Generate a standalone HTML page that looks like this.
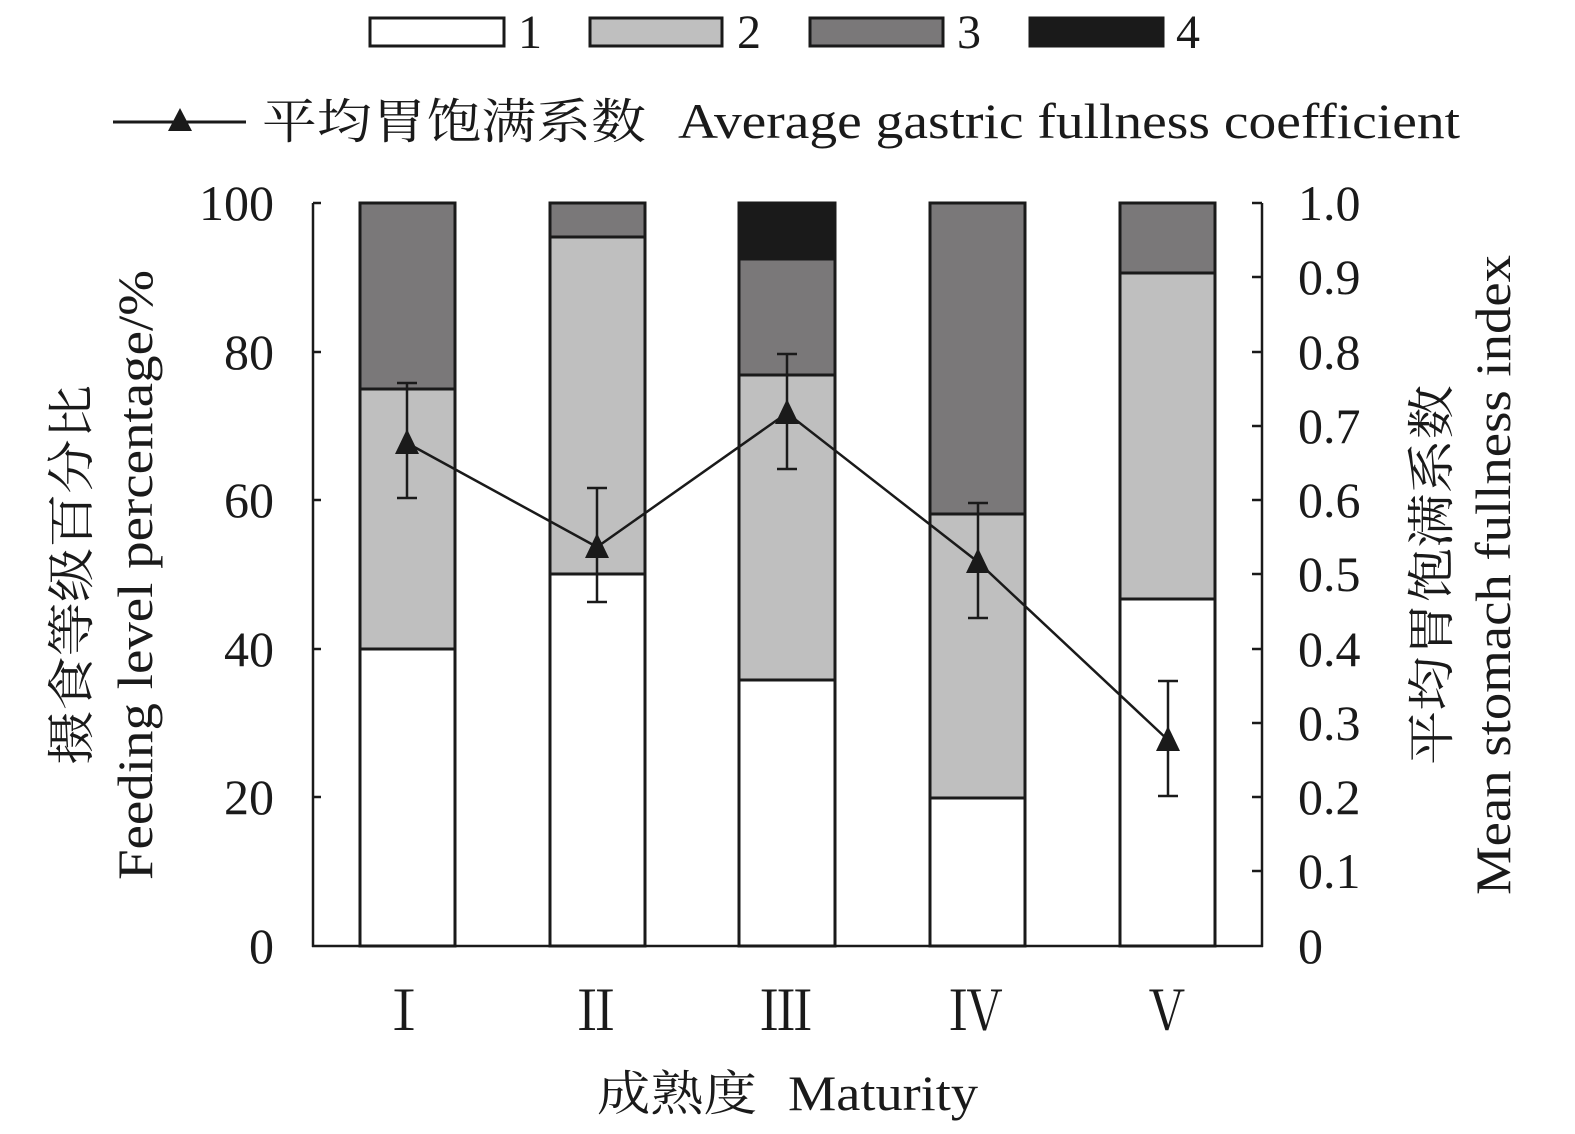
<!DOCTYPE html>
<html><head><meta charset="utf-8"><style>
html,body{margin:0;padding:0;background:#fff;}
svg{display:block;}
text{font-family:"Liberation Serif","Noto Serif CJK SC",serif;fill:#1a1a1a;}
</style></head><body>
<svg width="1575" height="1134" viewBox="0 0 1575 1134" xmlns="http://www.w3.org/2000/svg">
<!-- legend -->
<g stroke="#1a1a1a" stroke-width="3">
<rect x="370" y="18" width="134" height="28" fill="#fff"/>
<rect x="590" y="18" width="132" height="28" fill="#bfbfbf"/>
<rect x="810" y="18" width="133" height="28" fill="#7a7879"/>
<rect x="1030" y="18" width="133" height="28" fill="#1a1a1a"/>
</g>
<g font-size="48">
<text x="518" y="48">1</text><text x="737" y="48">2</text><text x="957" y="48">3</text><text x="1176" y="48">4</text>
</g>
<line x1="113" y1="122" x2="246" y2="122" stroke="#1a1a1a" stroke-width="3"/>
<polygon points="180,108 168,131 192,131" fill="#1a1a1a"/>
<text x="262" y="138" font-size="48" textLength="384" lengthAdjust="spacingAndGlyphs">平均胃饱满系数</text>
<text x="678" y="138" font-size="50" textLength="782" lengthAdjust="spacingAndGlyphs">Average gastric fullness coefficient</text>

<!-- bars -->
<g stroke="#1a1a1a" stroke-width="3">
<rect x="360" y="649" width="95" height="297" fill="#fff"/>
<rect x="360" y="389" width="95" height="260" fill="#bfbfbf"/>
<rect x="360" y="203" width="95" height="186" fill="#7a7879"/>

<rect x="550" y="574" width="95" height="372" fill="#fff"/>
<rect x="550" y="237" width="95" height="337" fill="#bfbfbf"/>
<rect x="550" y="203" width="95" height="34" fill="#7a7879"/>

<rect x="739" y="680" width="96" height="266" fill="#fff"/>
<rect x="739" y="375" width="96" height="305" fill="#bfbfbf"/>
<rect x="739" y="259" width="96" height="116" fill="#7a7879"/>
<rect x="739" y="203" width="96" height="56" fill="#1a1a1a"/>

<rect x="930" y="798" width="95" height="148" fill="#fff"/>
<rect x="930" y="514" width="95" height="284" fill="#bfbfbf"/>
<rect x="930" y="203" width="95" height="311" fill="#7a7879"/>

<rect x="1120" y="599" width="95" height="347" fill="#fff"/>
<rect x="1120" y="273" width="95" height="326" fill="#bfbfbf"/>
<rect x="1120" y="203" width="95" height="70" fill="#7a7879"/>
</g>

<!-- axes -->
<g stroke="#1a1a1a" stroke-width="2.5" fill="none">
<line x1="313" y1="203" x2="313" y2="947"/>
<line x1="312" y1="946" x2="1263" y2="946"/>
<line x1="1262" y1="203" x2="1262" y2="947"/>
<line x1="313" y1="203" x2="321" y2="203"/>
<line x1="313" y1="352" x2="321" y2="352"/>
<line x1="313" y1="500" x2="321" y2="500"/>
<line x1="313" y1="649" x2="321" y2="649"/>
<line x1="313" y1="797" x2="321" y2="797"/>
<line x1="1252" y1="203" x2="1262" y2="203"/>
<line x1="1252" y1="277" x2="1262" y2="277"/>
<line x1="1252" y1="352" x2="1262" y2="352"/>
<line x1="1252" y1="426" x2="1262" y2="426"/>
<line x1="1252" y1="500" x2="1262" y2="500"/>
<line x1="1252" y1="574" x2="1262" y2="574"/>
<line x1="1252" y1="649" x2="1262" y2="649"/>
<line x1="1252" y1="723" x2="1262" y2="723"/>
<line x1="1252" y1="797" x2="1262" y2="797"/>
<line x1="1252" y1="871" x2="1262" y2="871"/>
</g>
<g font-size="50" text-anchor="end">
<text x="274" y="220">100</text><text x="274" y="369">80</text><text x="274" y="517">60</text>
<text x="274" y="666">40</text><text x="274" y="814">20</text><text x="274" y="963">0</text>
</g>
<g font-size="50">
<text x="1298" y="220">1.0</text><text x="1298" y="294">0.9</text><text x="1298" y="369">0.8</text>
<text x="1298" y="443">0.7</text><text x="1298" y="517">0.6</text><text x="1298" y="591">0.5</text>
<text x="1298" y="666">0.4</text><text x="1298" y="740">0.3</text><text x="1298" y="814">0.2</text>
<text x="1298" y="888">0.1</text><text x="1298" y="963">0</text>
</g>

<!-- line series -->
<g stroke="#1a1a1a" stroke-width="2.5" fill="none">
<polyline points="407,443 597,547 787,413 978,562 1168,740"/>
<path d="M407,383V498M397,383H417M397,498H417"/>
<path d="M597,488V602M587,488H607M587,602H607"/>
<path d="M787,354V469M777,354H797M777,469H797"/>
<path d="M978,503V618M968,503H988M968,618H988"/>
<path d="M1168,681V796M1158,681H1178M1158,796H1178"/>
</g>
<g fill="#1a1a1a">
<polygon points="407,429 395,454 419,454"/>
<polygon points="597,533 585,558 609,558"/>
<polygon points="787,399 775,424 799,424"/>
<polygon points="978,548 966,573 990,573"/>
<polygon points="1168,726 1156,751 1180,751"/>
</g>

<!-- x labels -->
<g font-size="54" text-anchor="middle">
<text x="404" y="1030">Ⅰ</text><text x="596" y="1030">Ⅱ</text><text x="786" y="1030">Ⅲ</text>
<text x="976" y="1030">Ⅳ</text><text x="1167" y="1030">Ⅴ</text>
</g>
<text x="597" y="1110" font-size="48" textLength="160" lengthAdjust="spacingAndGlyphs">成熟度</text>
<text x="788" y="1110" font-size="50" textLength="190" lengthAdjust="spacingAndGlyphs">Maturity</text>

<!-- y titles -->
<text transform="translate(88,575) rotate(-90)" font-size="48" text-anchor="middle" textLength="380" lengthAdjust="spacingAndGlyphs">摄食等级百分比</text>
<text transform="translate(152,575) rotate(-90)" font-size="50" text-anchor="middle" textLength="610" lengthAdjust="spacingAndGlyphs">Feeding level percentage/%</text>
<text transform="translate(1448,575) rotate(-90)" font-size="48" text-anchor="middle" textLength="380" lengthAdjust="spacingAndGlyphs">平均胃饱满系数</text>
<text transform="translate(1510,575) rotate(-90)" font-size="50" text-anchor="middle" textLength="640" lengthAdjust="spacingAndGlyphs">Mean stomach fullness index</text>
</svg>
</body></html>
